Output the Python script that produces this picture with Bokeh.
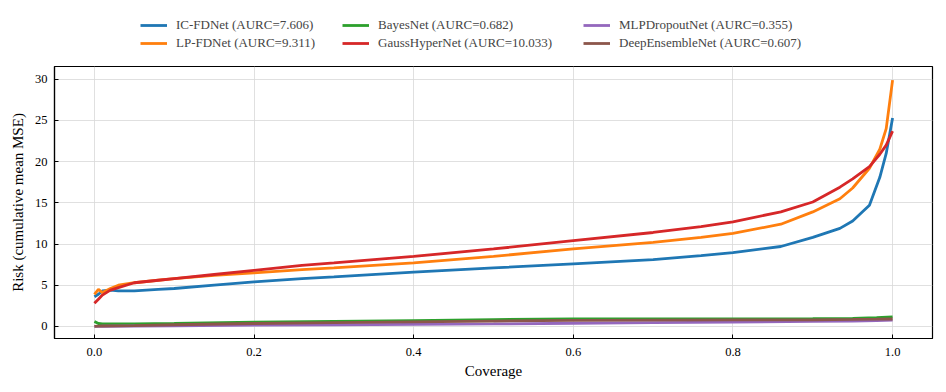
from bokeh.plotting import figure
from bokeh.models import Legend, LegendItem, FixedTicker, Range1d
from bokeh.layouts import column
from bokeh.embed import file_html
from bokeh.resources import INLINE

FONT = "Liberation Serif"

coverage = [0.0, 0.005, 0.01, 0.02, 0.03, 0.05, 0.08, 0.1, 0.15, 0.2, 0.26, 0.3, 0.4, 0.5,
            0.6, 0.7, 0.76, 0.8, 0.86, 0.9, 0.934, 0.95, 0.971, 0.984, 0.992, 1.0]
ic_fdnet = [3.6, 3.9, 4.3, 4.4, 4.3, 4.3, 4.5, 4.6, 5.0, 5.4, 5.8, 6.0, 6.6, 7.1,
            7.6, 8.1, 8.6, 8.95, 9.7, 10.8, 11.9, 12.8, 14.7, 18.1, 21.0, 25.3]
lp_fdnet = [3.9, 4.5, 4.1, 4.6, 5.0, 5.3, 5.6, 5.8, 6.2, 6.5, 6.9, 7.1, 7.7, 8.5,
            9.4, 10.2, 10.8, 11.3, 12.4, 13.9, 15.5, 16.8, 19.2, 21.5, 24.0, 29.9]
gausshypernet = [2.8, 3.3, 3.8, 4.4, 4.7, 5.3, 5.6, 5.8, 6.3, 6.8, 7.4, 7.7, 8.5, 9.4,
                 10.4, 11.4, 12.1, 12.7, 13.9, 15.1, 16.9, 17.9, 19.4, 20.9, 22.0, 23.7]

coverage_low = [0.0, 0.005, 0.01, 0.05, 0.1, 0.2, 0.3, 0.4, 0.5, 0.6, 0.7, 0.8, 0.9, 0.95, 0.98, 1.0]
bayesnet = [0.6, 0.35, 0.3, 0.3, 0.35, 0.5, 0.6, 0.7, 0.82, 0.9, 0.92, 0.92, 0.93, 0.97, 1.05, 1.15]
mlpdropout = [0.0, 0.01, 0.02, 0.05, 0.08, 0.15, 0.2, 0.25, 0.3, 0.38, 0.45, 0.52, 0.6, 0.65, 0.7, 0.75]
deepensemble = [0.0, 0.03, 0.05, 0.1, 0.2, 0.35, 0.45, 0.55, 0.65, 0.72, 0.75, 0.78, 0.8, 0.84, 0.87, 0.9]

labels = ["IC-FDNet (AURC=7.606)", "LP-FDNet (AURC=9.311)", "BayesNet (AURC=0.682)",
          "GaussHyperNet (AURC=10.033)", "MLPDropoutNet (AURC=0.355)", "DeepEnsembleNet (AURC=0.607)"]
colors = ["#1f77b4", "#ff7f0e", "#2ca02c", "#d62728", "#9467bd", "#8c564b"]
x_ticks = [0.0, 0.2, 0.4, 0.6, 0.8, 1.0]
y_ticks = [0, 5, 10, 15, 20, 25, 30]

LW = 2.8
series = [(coverage, ic_fdnet), (coverage, lp_fdnet), (coverage_low, bayesnet),
          (coverage, gausshypernet), (coverage_low, mlpdropout), (coverage_low, deepensemble)]

# ---- main plot ----
p = figure(frame_width=878, frame_height=272, output_backend="svg", toolbar_location=None,
           x_range=Range1d(-0.05, 1.05), y_range=Range1d(-1.47, 31.55),
           min_border_left=54, min_border_right=14, min_border_top=8, min_border_bottom=54)

for (xs, ys), c in zip(series, colors):
    p.line(xs, ys, line_color=c, line_width=LW)

p.outline_line_color = "black"
p.outline_line_width = 1.2
p.background_fill_color = "white"

for ax in (p.xaxis, p.yaxis):
    ax.major_tick_in = 4
    ax.major_tick_out = 0
    ax.minor_tick_line_color = None
    ax.axis_line_color = "black"
    ax.axis_line_width = 1.2
    ax.major_tick_line_color = "black"
    ax.major_tick_line_width = 1
    ax.major_label_text_font = FONT
    ax.major_label_text_font_size = "12.5px"
    ax.major_label_text_color = "black"
    ax.axis_label_text_font = FONT
    ax.axis_label_text_font_size = "15px"
    ax.axis_label_text_font_style = "normal"
    ax.axis_label_text_color = "black"

p.xaxis.ticker = FixedTicker(ticks=x_ticks)
p.yaxis.ticker = FixedTicker(ticks=y_ticks)
p.xaxis.major_label_overrides = {t: f"{t:.1f}" for t in x_ticks}
p.xaxis.axis_label = "Coverage"
p.yaxis.axis_label = "Risk (cumulative mean MSE)"
p.xaxis.major_label_standoff = 9
p.yaxis.major_label_standoff = 7
p.xaxis.axis_label_standoff = 4
p.yaxis.axis_label_standoff = 6

p.grid.grid_line_color = "#d8d8d8"
p.grid.grid_line_width = 1
p.grid.grid_line_alpha = 0.8

# ---- legend strip above (same series, drawn out of view; only the legend shows) ----
lf = figure(width=946, height=58, output_backend="svg", toolbar_location=None,
            x_range=Range1d(0, 1), y_range=Range1d(1000, 1001),
            x_axis_location=None, y_axis_location=None,
            min_border=0, outline_line_color=None)
lf.grid.visible = False
legend_lines = [lf.line(xs, ys, line_color=c, line_width=LW) for (xs, ys), c in zip(series, colors)]

# the column layout aligns this strip's frame with the main frame (left edge at x=54)
col_x = [86, 288, 529]
for i in range(3):
    items = [LegendItem(label=labels[2 * i], renderers=[legend_lines[2 * i]]),
             LegendItem(label=labels[2 * i + 1], renderers=[legend_lines[2 * i + 1]])]
    lg = Legend(items=items, location=(col_x[i], 6), orientation="vertical",
                border_line_color=None, background_fill_alpha=0, padding=0, margin=0,
                spacing=0, glyph_width=27, glyph_height=18, label_height=18,
                label_standoff=9, label_text_font=FONT, label_text_font_size="13px",
                label_text_baseline="middle")
    lf.add_layout(lg, "center")

layout = column(lf, p, spacing=0)
open("out.html", "w").write(file_html(layout, INLINE))
